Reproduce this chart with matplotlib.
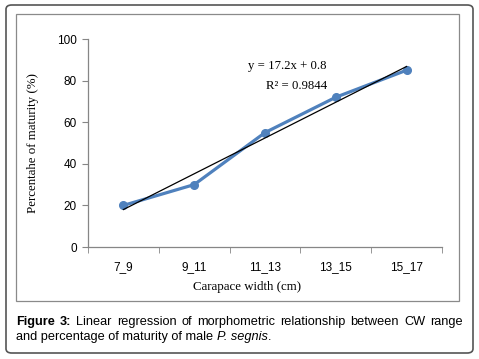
import matplotlib
matplotlib.use("Agg")
import matplotlib.pyplot as plt
from matplotlib.patches import FancyBboxPatch, Rectangle

categories = ["7_9", "9_11", "11_13", "13_15", "15_17"]
maturity = [20, 30, 55, 72, 85]
slope, intercept = 17.2, 0.8
yticks = [0, 20, 40, 60, 80, 100]

W, H = 479, 359
fig = plt.figure(figsize=(W/100, H/100), dpi=100)
fig.patch.set_facecolor("white")

def px(x, y):
    return x / W, 1 - y / H

# outer rounded border
outer = FancyBboxPatch((6/W, 1 - 353/H), 467/W, 348/H,
                       boxstyle="round,pad=0,rounding_size=0.012",
                       transform=fig.transFigure, fill=False,
                       edgecolor="#555555", linewidth=1.2)
fig.patches.append(outer)
# inner chart box
inner = Rectangle((16/W, 1 - 301/H), 443/W, 287/H, transform=fig.transFigure,
                  fill=False, edgecolor="#8a8a8a", linewidth=0.9)
fig.patches.append(inner)

left, right, top, bottom = 88, 442, 39, 247
ax = fig.add_axes([left/W, 1 - bottom/H, (right-left)/W, (bottom-top)/H])
x = list(range(1, len(categories) + 1))
ax.plot(x, maturity, color="#4F81BD", linewidth=2.3, marker="o", markersize=5.5,
        solid_capstyle="round", zorder=3)
xt = [1, 5]
ax.plot(xt, [slope*v + intercept for v in xt], color="black", linewidth=0.9, zorder=4)

ax.set_xlim(0.5, 5.5)
ax.set_ylim(0, 100)
ax.set_yticks(yticks)
ax.set_yticklabels([str(v) for v in yticks], fontsize=8.5, family="Liberation Sans")
ax.set_xticks(x)
ax.set_xticklabels(categories, fontsize=8.5, family="Liberation Sans")
ax.set_xticks([0.5 + i for i in range(6)], minor=True)
ax.tick_params(axis="x", which="major", length=0, pad=10)
ax.tick_params(axis="x", which="minor", length=4, direction="out", color="#868686")
ax.tick_params(axis="y", length=4, direction="out", color="#868686", pad=4)
for s in ["top", "right"]:
    ax.spines[s].set_visible(False)
for s in ["left", "bottom"]:
    ax.spines[s].set_color("#868686")
    ax.spines[s].set_linewidth(0.9)

fig.text(*px(287, 66), "y = 17.2x + 0.8", ha="center", va="center",
         fontsize=9.2, family="Liberation Serif")
fig.text(*px(297, 86), "R² = 0.9844", ha="center", va="center",
         fontsize=9.2, family="Liberation Serif")
fig.text(*px(247, 287), "Carapace width (cm)", ha="center", va="center",
         fontsize=9.3, family="Liberation Serif")
fig.text(*px(33, 143), "Percentahe of maturity (%)", ha="center", va="center",
         rotation=90, fontsize=9.3, family="Liberation Serif")

# caption, first line justified
fig.canvas.draw()
r = fig.canvas.get_renderer()
cfs = 9.2
line1 = [("Figure", "bold"), ("3:", "bold"), ("Linear", "normal"), ("regression", "normal"),
         ("of", "normal"), ("morphometric", "normal"), ("relationship", "normal"),
         ("between", "normal"), ("CW", "normal"), ("range", "normal")]
x0, x1 = 16, 463
ytop = 322
objs = []
for w, wt in line1:
    t = fig.text(0, 0, w, fontsize=cfs, family="Liberation Sans", weight=wt,
                 ha="left", va="center")
    objs.append(t)
widths = [t.get_window_extent(r).width for t in objs]
gap = (x1 - x0 - sum(widths)) / (len(objs) - 1)
cx = x0
for t, wd in zip(objs, widths):
    t.set_position(px(cx, ytop))
    cx += wd + gap

t2 = fig.text(*px(16, 337), "and percentage of maturity of male ", fontsize=cfs,
              family="Liberation Sans", ha="left", va="center")
wd = t2.get_window_extent(r).width
t3 = fig.text(*px(16 + wd, 337), "P. segnis", fontsize=cfs, family="Liberation Sans",
              style="italic", ha="left", va="center")
wd3 = t3.get_window_extent(r).width
fig.text(*px(16 + wd + wd3, 337), ".", fontsize=cfs, family="Liberation Sans",
         ha="left", va="center")

fig.savefig("out.png", dpi=100)
